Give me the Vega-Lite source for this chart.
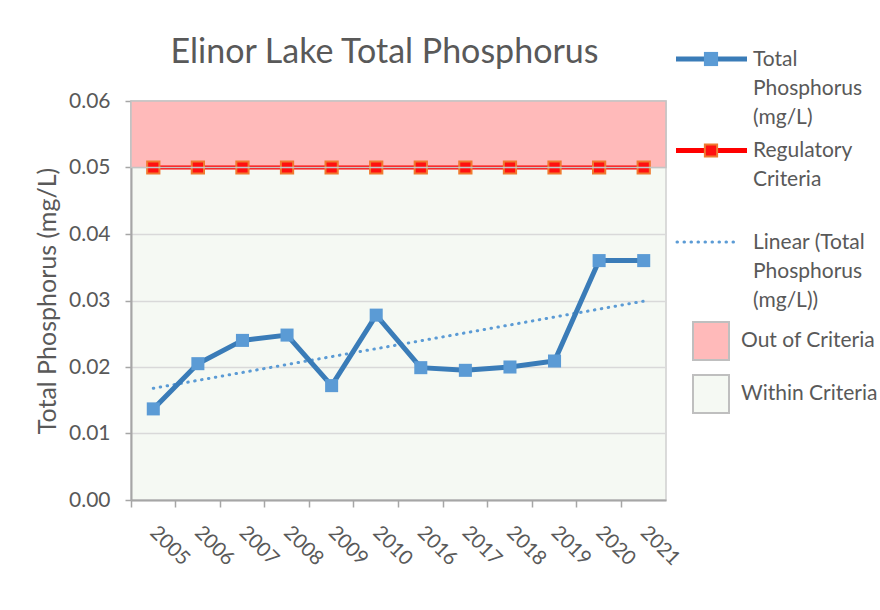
{
  "$schema": "https://vega.github.io/schema/vega-lite/v6.json",
  "background": "white",
  "padding": {"left": 34, "top": 35, "right": 0, "bottom": 0},
  "config": {
    "font": "Lato",
    "view": {"stroke": null},
    "axis": {"labelFont": "Lato", "titleFont": "Lato", "labelColor": "#595959", "titleColor": "#595959", "titleFontWeight": "normal"},
    "text": {"font": "Lato", "color": "#595959"}
  },
  "datasets": {
    "tp": [
      {"year": "2005", "tp": 0.0137, "reg": 0.05},
      {"year": "2006", "tp": 0.0205, "reg": 0.05},
      {"year": "2007", "tp": 0.0240, "reg": 0.05},
      {"year": "2008", "tp": 0.0248, "reg": 0.05},
      {"year": "2009", "tp": 0.0172, "reg": 0.05},
      {"year": "2010", "tp": 0.0278, "reg": 0.05},
      {"year": "2016", "tp": 0.0199, "reg": 0.05},
      {"year": "2017", "tp": 0.0195, "reg": 0.05},
      {"year": "2018", "tp": 0.0200, "reg": 0.05},
      {"year": "2019", "tp": 0.0209, "reg": 0.05},
      {"year": "2020", "tp": 0.0360, "reg": 0.05},
      {"year": "2021", "tp": 0.0360, "reg": 0.05}
    ],
    "trend": [
      {"year": "2005", "trend": 0.0168},
      {"year": "2021", "trend": 0.0299}
    ],
    "zones": [
      {"zone": "Out of Criteria", "lo": 0.05, "hi": 0.06},
      {"zone": "Within Criteria", "lo": 0.0, "hi": 0.05}
    ],
    "legendLines": [
      {"item": "Total Phosphorus (mg/L)", "label": "Total\nPhosphorus\n(mg/L)"},
      {"item": "Regulatory Criteria", "label": "Regulatory\nCriteria"},
      {"item": "Linear (Total Phosphorus (mg/L))", "label": "Linear (Total\nPhosphorus\n(mg/L))"}
    ]
  },
  "align": "none",
  "bounds": "full",
  "spacing": -11,
  "hconcat": [
    {
      "width": 535,
      "height": 399,
      "view": {"fill": "#F5F9F3", "stroke": "#CFCFCF", "strokeWidth": 1.5},
      "title": {"text": "Elinor Lake Total Phosphorus", "font": "Lato", "fontSize": 34, "fontWeight": "normal", "color": "#595959", "anchor": "middle", "frame": "group", "dx": -14, "offset": 20},
      "layer": [
        {
          "data": {"name": "zones"},
          "transform": [{"filter": "datum.zone === 'Out of Criteria'"}],
          "mark": {"type": "rect", "stroke": null},
          "encoding": {
            "y": {"field": "hi", "type": "quantitative", "title": "Total Phosphorus (mg/L)", "scale": {"domain": [0, 0.06], "nice": false}},
            "y2": {"field": "lo"},
            "color": {"field": "zone", "type": "nominal", "scale": {"domain": ["Out of Criteria", "Within Criteria"], "range": ["#FFBABA", "#F5F9F3"]}, "legend": null}
          }
        },
        {
          "data": {"name": "tp"},
          "mark": {"type": "line", "color": "#FF0000", "strokeWidth": 4},
          "encoding": {
            "x": {"field": "year", "type": "ordinal", "bandPosition": 0.5, "title": null,
              "scale": {"type": "band", "paddingInner": 0, "paddingOuter": 0},
              "axis": {"labelAngle": 45, "labelAlign": "left", "labelBaseline": "middle", "bandPosition": 0, "labelOffset": 0, "labelPadding": 22, "tickSize": 7, "labelFontSize": 20, "domainColor": "#A6A6A6", "domainWidth": 2, "tickColor": "#A6A6A6", "tickWidth": 1.5, "grid": false}},
            "y": {"field": "reg", "type": "quantitative", "title": "Total Phosphorus (mg/L)",
              "axis": {"values": [0, 0.01, 0.02, 0.03, 0.04, 0.05, 0.06], "format": ".2f", "labelFontSize": 21, "titleFontSize": 25, "titlePadding": 8, "labelPadding": 15, "tickSize": 6, "tickColor": "#A6A6A6", "tickWidth": 1.5, "domainColor": "#A6A6A6", "domainWidth": 2, "gridColor": "#D9D9D9", "gridWidth": 1.5}}
          }
        },
        {
          "data": {"name": "tp"},
          "mark": {"type": "point", "shape": "square", "filled": true, "size": 150, "fill": "#FF1010", "stroke": "#F07A30", "strokeWidth": 2, "opacity": 1},
          "encoding": {
            "x": {"field": "year", "type": "ordinal", "bandPosition": 0.5},
            "y": {"field": "reg", "type": "quantitative", "title": "Total Phosphorus (mg/L)"}
          }
        },
        {
          "data": {"name": "zones"},
          "transform": [{"filter": "datum.zone === 'Out of Criteria'"}],
          "mark": {"type": "rect", "fill": null, "stroke": "#C4C4C4", "strokeWidth": 1.5},
          "encoding": {
            "y": {"field": "hi", "type": "quantitative", "title": "Total Phosphorus (mg/L)"},
            "y2": {"field": "lo"}
          }
        },
        {
          "data": {"name": "trend"},
          "mark": {"type": "line", "color": "#5B9BD5", "strokeWidth": 3, "strokeDash": [0.5, 6.5], "strokeCap": "round"},
          "encoding": {
            "x": {"field": "year", "type": "ordinal", "bandPosition": 0.5},
            "y": {"field": "trend", "type": "quantitative", "title": "Total Phosphorus (mg/L)"}
          }
        },
        {
          "data": {"name": "tp"},
          "mark": {"type": "line", "color": "#3A7CB8", "strokeWidth": 5},
          "encoding": {
            "x": {"field": "year", "type": "ordinal", "bandPosition": 0.5},
            "y": {"field": "tp", "type": "quantitative", "title": "Total Phosphorus (mg/L)"}
          }
        },
        {
          "data": {"name": "tp"},
          "mark": {"type": "point", "shape": "square", "filled": true, "size": 170, "fill": "#5B9BD5", "opacity": 1},
          "encoding": {
            "x": {"field": "year", "type": "ordinal", "bandPosition": 0.5},
            "y": {"field": "tp", "type": "quantitative", "title": "Total Phosphorus (mg/L)"}
          }
        }
      ]
    },
    {
      "width": 200,
      "height": 399,
      "resolve": {"scale": {"y": "independent"}},
      "layer": [
        {
          "data": {"name": "legendLines"},
          "encoding": {
            "y": {"field": "item", "type": "nominal", "axis": null,
              "scale": {"type": "point", "padding": 0, "range": [-42, 141], "domain": ["Total Phosphorus (mg/L)", "Regulatory Criteria", "Linear (Total Phosphorus (mg/L))"]}}
          },
          "layer": [
            {
              "transform": [{"filter": "datum.item === 'Total Phosphorus (mg/L)'"}],
              "mark": {"type": "rule", "strokeWidth": 5, "color": "#3A7CB8"},
              "encoding": {
                "x": {"datum": 0, "type": "quantitative", "scale": {"domain": [0, 1]}, "axis": null},
                "x2": {"datum": 0.355}
              }
            },
            {
              "transform": [{"filter": "datum.item === 'Regulatory Criteria'"}],
              "mark": {"type": "rule", "strokeWidth": 5, "color": "#FF0000"},
              "encoding": {
                "x": {"datum": 0, "type": "quantitative"},
                "x2": {"datum": 0.355}
              }
            },
            {
              "transform": [{"filter": "datum.item === 'Linear (Total Phosphorus (mg/L))'"}],
              "mark": {"type": "rule", "strokeWidth": 3, "color": "#5B9BD5", "strokeDash": [0.5, 6.5], "strokeCap": "round"},
              "encoding": {
                "x": {"datum": 0.005, "type": "quantitative"},
                "x2": {"datum": 0.32}
              }
            },
            {
              "transform": [{"filter": "datum.item === 'Total Phosphorus (mg/L)'"}],
              "mark": {"type": "point", "shape": "square", "filled": true, "size": 200, "fill": "#5B9BD5", "opacity": 1},
              "encoding": {"x": {"datum": 0.175, "type": "quantitative"}}
            },
            {
              "transform": [{"filter": "datum.item === 'Regulatory Criteria'"}],
              "mark": {"type": "point", "shape": "square", "filled": true, "size": 150, "fill": "#FF1010", "stroke": "#F07A30", "strokeWidth": 2, "opacity": 1},
              "encoding": {"x": {"datum": 0.175, "type": "quantitative"}}
            },
            {
              "mark": {"type": "text", "align": "left", "baseline": "top", "dy": -10.5, "fontSize": 21, "lineHeight": 29, "lineBreak": "\n", "color": "#595959"},
              "encoding": {
                "x": {"datum": 0.385, "type": "quantitative"},
                "text": {"field": "label"}
              }
            }
          ]
        },
        {
          "data": {"name": "zones"},
          "encoding": {
            "y": {"field": "zone", "type": "nominal", "axis": null,
              "scale": {"type": "band", "paddingInner": 0.283, "paddingOuter": 0, "range": [221, 312], "domain": ["Out of Criteria", "Within Criteria"]}}
          },
          "layer": [
            {
              "mark": {"type": "rect", "stroke": "#BFBFBF", "strokeWidth": 2},
              "encoding": {
                "x": {"datum": 0.085, "type": "quantitative"},
                "x2": {"datum": 0.265},
                "color": {"field": "zone", "type": "nominal", "legend": null,
                  "scale": {"domain": ["Out of Criteria", "Within Criteria"], "range": ["#FFBABA", "#F5F9F3"]}}
              }
            },
            {
              "mark": {"type": "text", "align": "left", "baseline": "middle", "fontSize": 21, "color": "#595959"},
              "encoding": {
                "x": {"datum": 0.325, "type": "quantitative"},
                "y": {"field": "zone", "type": "nominal", "bandPosition": 0.5},
                "text": {"field": "zone"}
              }
            }
          ]
        }
      ]
    }
  ]
}
